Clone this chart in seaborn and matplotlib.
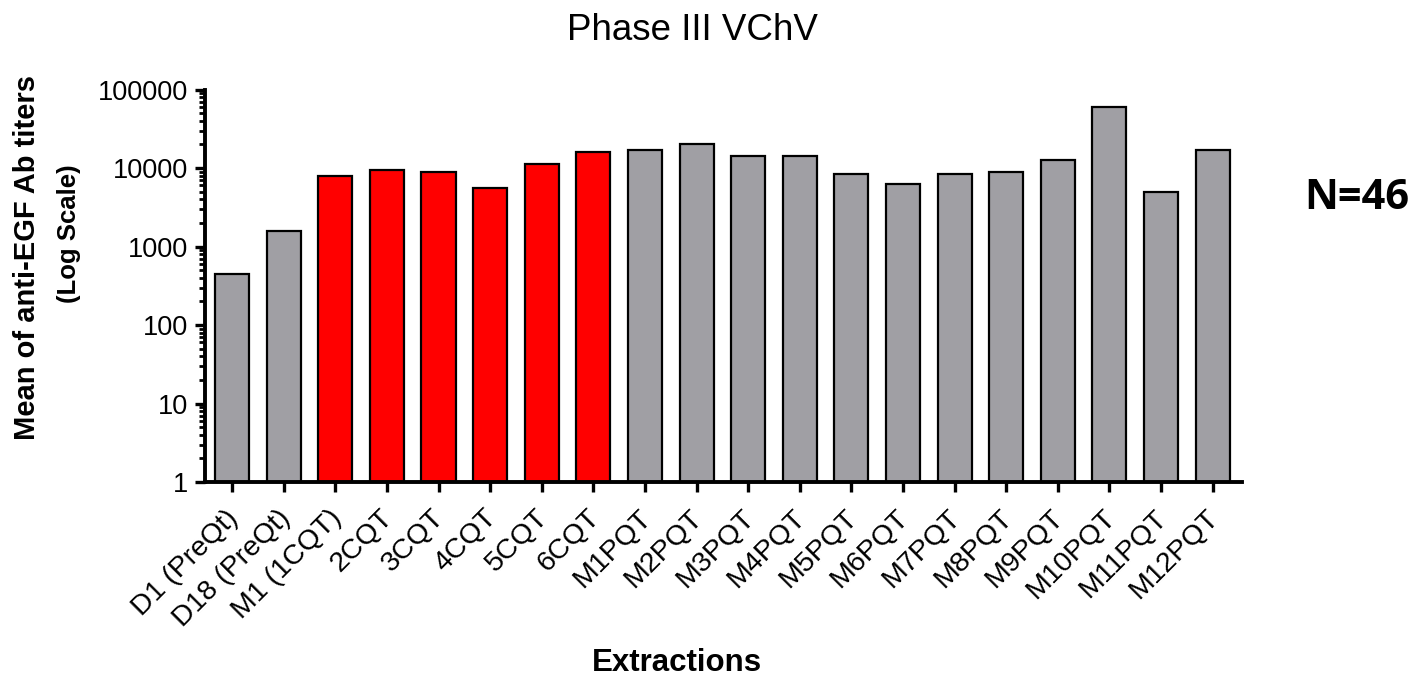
import matplotlib
matplotlib.use("Agg")
import matplotlib.pyplot as plt
import matplotlib.transforms as mtransforms
import seaborn as sns
import numpy as np
import pandas as pd
from matplotlib.ticker import FixedLocator, LogLocator, NullFormatter

categories = ["D1 (PreQt)", "D18 (PreQt)", "M1 (1CQT)", "2CQT", "3CQT", "4CQT", "5CQT", "6CQT",
              "M1PQT", "M2PQT", "M3PQT", "M4PQT", "M5PQT", "M6PQT", "M7PQT", "M8PQT",
              "M9PQT", "M10PQT", "M11PQT", "M12PQT"]
titers = [442, 1580, 7930, 9460, 8830, 5620, 11180, 16040,
          16860, 20100, 14140, 14140, 8340, 6270, 8340, 8920,
          12680, 60100, 4950, 16860]
groups = ["pre"] * 2 + ["cqt"] * 6 + ["pqt"] * 12
group_colors = {"pre": "#a09fa4", "cqt": "#ff0000", "pqt": "#a09fa4"}
ytick_vals = [1, 10, 100, 1000, 10000, 100000]
ytick_labels = ["1", "10", "100", "1000", "10000", "100000"]

sns.set_theme(style="white")
plt.rcParams["font.family"] = ["Liberation Sans", "DejaVu Sans"]
plt.rcParams["text.color"] = "black"
plt.rcParams["axes.labelcolor"] = "black"
plt.rcParams["xtick.color"] = "black"
plt.rcParams["ytick.color"] = "black"

df = pd.DataFrame({"cat": categories, "val": titers, "grp": groups})

W, H = 1410, 680
fig = plt.figure(figsize=(14.1, 6.8), dpi=100)
ax = fig.add_axes([205 / W, 1 - 482 / H, (1242 - 205) / W, (482 - 89.5) / H])

sns.barplot(data=df, x="cat", y="val", hue="cat",
            palette=[group_colors[g] for g in groups], legend=False, saturation=1,
            width=0.66, edgecolor="black", linewidth=1.6, ax=ax)
ax.set_yscale("log")
ax.set_ylim(1, 100000)
ax.set_xlim(-0.525, 19.57)

ax.yaxis.set_major_locator(FixedLocator(ytick_vals))
ax.set_yticklabels(ytick_labels)
ax.yaxis.set_minor_locator(LogLocator(base=10, subs=np.arange(2, 10)))
ax.yaxis.set_minor_formatter(NullFormatter())

for s in ["top", "right"]:
    ax.spines[s].set_visible(False)
for s in ["left", "bottom"]:
    ax.spines[s].set_linewidth(2.8)
    ax.spines[s].set_color("black")
    ax.spines[s].set_capstyle("projecting")

ax.tick_params(axis="y", which="major", direction="out", length=7.5, width=2.4,
               left=True, labelsize=19.5, colors="black", pad=5)
ax.tick_params(axis="y", which="minor", direction="out", length=4.5, width=2.0, left=True)
ax.tick_params(axis="x", which="major", direction="out", length=7.5, width=2.4,
               bottom=True, labelsize=20.5, colors="black", pad=9)
ax.set_xticks(range(len(categories)))
ax.set_xticklabels(categories, rotation=45, ha="right", va="top", rotation_mode="anchor")
shift = mtransforms.ScaledTranslation(-7 / 100, 0, fig.dpi_scale_trans)
for lbl in ax.get_xticklabels():
    lbl.set_transform(lbl.get_transform() + shift)
ax.set_xlabel("")
ax.set_ylabel("")

fig.text(692.5 / W, 1 - 40 / H, "Phase III VChV", fontsize=26.5, ha="center", va="baseline")
fig.text(677 / W, 1 - 671 / H, "Extractions", fontsize=22.5, fontweight="bold",
         ha="center", va="baseline")
fig.text(27 / W, 1 - 258 / H, "Mean of anti-EGF Ab titers", fontsize=21, fontweight="bold",
         rotation=90, ha="center", va="center")
fig.text(69 / W, 1 - 234 / H, "(Log Scale)", fontsize=18.5, fontweight="bold",
         rotation=90, ha="center", va="center")
fig.text(1357 / W, 1 - 198 / H, "N=46", fontsize=30, fontweight="bold",
         family=["Open Sans", "DejaVu Sans"], ha="center", va="center")

fig.savefig("out.png", dpi=100)
